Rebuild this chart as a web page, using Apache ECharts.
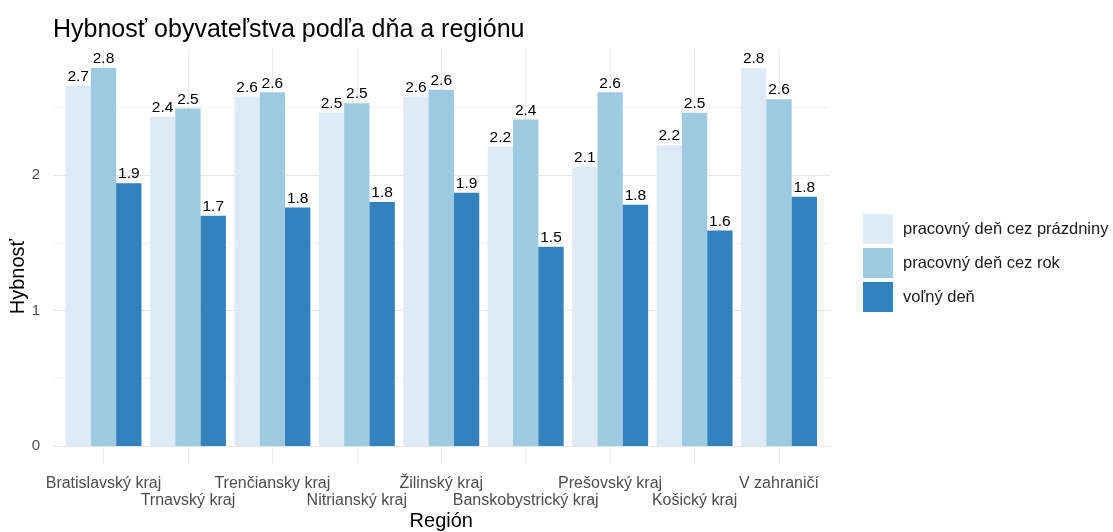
<!DOCTYPE html>
<html lang="sk">
<head>
    <meta charset="UTF-8">
    <title>Hybnosť obyvateľstva</title>
    <script src="https://cdn.jsdelivr.net/npm/echarts@6/dist/echarts.min.js"></script>
    <style>
        html, body { margin: 0; padding: 0; background: #fff; }
        #main { width: 1113px; height: 532px; }
    </style>
</head>
<body>
<div id="main"></div>
<script type="text/javascript">
    // regióny
    var regiony = ['Bratislavský kraj', 'Trnavský kraj', 'Trenčiansky kraj', 'Nitrianský kraj', 'Žilinský kraj',
        'Banskobystrický kraj', 'Prešovský kraj', 'Košický kraj', 'V zahraničí'];
    var nazvySerii = ['pracovný deň cez prázdniny', 'pracovný deň cez rok', 'voľný deň'];
    // hodnoty hybnosti
    var prazdniny = [2.66, 2.43, 2.58, 2.46, 2.58, 2.21, 2.06, 2.22, 2.79];
    var rok = [2.79, 2.49, 2.61, 2.53, 2.63, 2.41, 2.61, 2.46, 2.56];
    var volny = [1.94, 1.70, 1.76, 1.80, 1.87, 1.47, 1.78, 1.59, 1.84];
    var farby = ['#deebf7', '#9ecae1', '#3182bd'];

    var font = 'Liberation Sans, Arial, sans-serif';
    var myChart = echarts.init(document.getElementById('main'));

    function seria(i, data) {
        return {
            name: nazvySerii[i],
            type: 'bar',
            xAxisIndex: 1,
            yAxisIndex: 1,
            data: data,
            clip: false,
            barCategoryGap: '10%',
            barGap: '0%',
            itemStyle: { color: farby[i] },
            label: {
                show: true,
                position: 'top',
                distance: 1,
                color: '#000',
                fontSize: 15.5,
                fontFamily: font,
                formatter: function (p) { return p.value.toFixed(1); }
            }
        };
    }

    var option = {
        animation: false,
        backgroundColor: '#fff',
        title: {
            text: 'Hybnosť obyvateľstva podľa dňa a regiónu',
            left: 48,
            top: 13,
            textStyle: { fontFamily: font, fontSize: 25, fontWeight: 'normal', color: '#000' }
        },
        legend: {
            orient: 'vertical',
            left: 858,
            top: 209,
            itemWidth: 30,
            itemHeight: 30,
            itemGap: 4,
            icon: 'rect',
            data: nazvySerii,
            textStyle: { fontFamily: font, fontSize: 16.5, color: '#1a1a1a', padding: [0, 0, 0, 5] }
        },
        grid: [
            // mriežka s vodorovnými čiarami (0 až 2.5)
            { left: 53, right: 283, top: 107.25, bottom: 86, outerBoundsMode: 'none' },
            // stĺpce
            { left: 103.5, right: 334, top: 49, bottom: 67, outerBoundsMode: 'none' }
        ],
        xAxis: [
            { type: 'value', gridIndex: 0, show: false, min: 0, max: 1 },
            {
                type: 'category',
                gridIndex: 1,
                data: regiony,
                boundaryGap: false,
                axisLine: { show: false },
                axisTick: { show: false },
                splitLine: { show: true, interval: 0, lineStyle: { color: '#ebebeb', width: 1 } },
                axisLabel: {
                    interval: 0,
                    margin: 10,
                    color: '#4d4d4d',
                    fontSize: 16,
                    lineHeight: 17,
                    fontFamily: font,
                    formatter: function (v, i) { return i % 2 ? '\n' + v : v; }
                },
                name: 'Región',
                nameLocation: 'middle',
                nameGap: 46,
                nameMoveOverlap: false,
                nameTextStyle: { fontFamily: font, fontSize: 20, color: '#000' }
            }
        ],
        yAxis: [
            {
                type: 'value',
                gridIndex: 0,
                min: 0,
                max: 2.5,
                interval: 0.5,
                axisLine: { show: false },
                axisTick: { show: false },
                splitLine: { show: true, lineStyle: { color: ['#e6e6e6', '#f2f2f2'], width: 1 } },
                axisLabel: {
                    margin: 13,
                    color: '#4d4d4d',
                    fontSize: 15,
                    fontFamily: font,
                    formatter: function (v) { return v % 1 === 0 ? String(v) : ''; }
                },
                name: 'Hybnosť',
                nameLocation: 'middle',
                nameGap: 25,
                nameMoveOverlap: false,
                nameTextStyle: { fontFamily: font, fontSize: 20, color: '#000' }
            },
            {
                type: 'value',
                gridIndex: 1,
                min: -0.14,
                max: 2.93,
                show: false,
                splitLine: { show: false }
            }
        ],
        series: [
            seria(0, prazdniny),
            seria(1, rok),
            seria(2, volny)
        ]
    };
    myChart.setOption(option);
</script>
</body>
</html>
